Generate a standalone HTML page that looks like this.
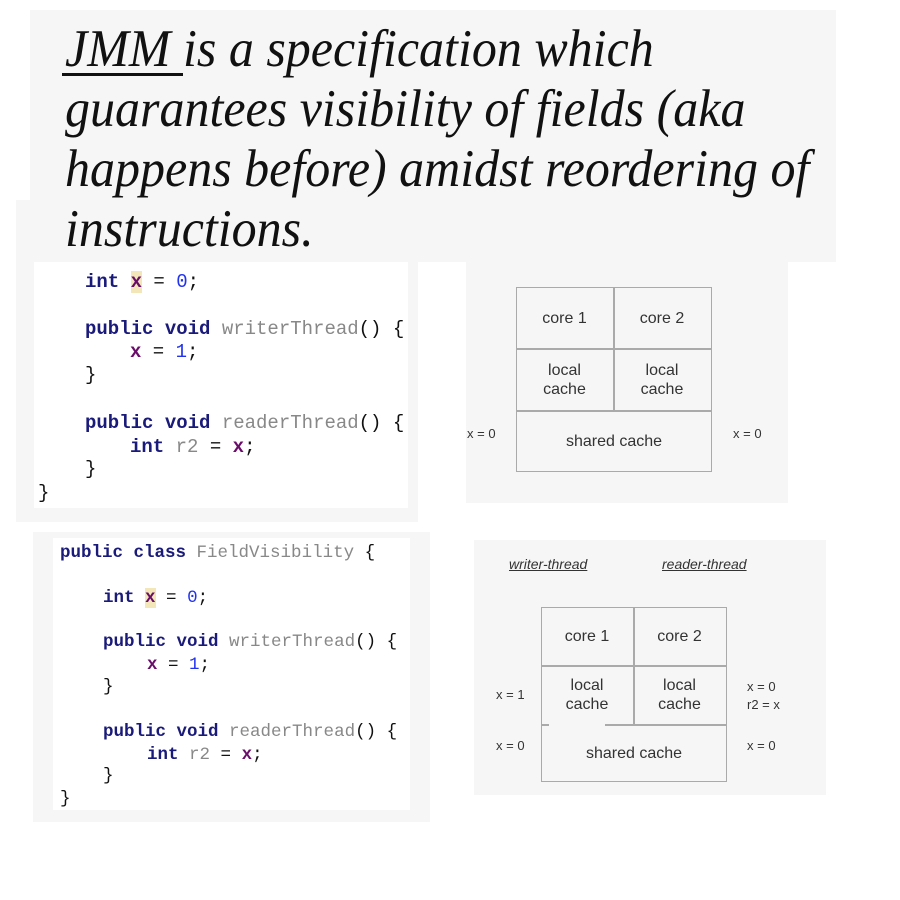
<!DOCTYPE html>
<html><head><meta charset="utf-8"><style>
body{margin:0;width:900px;height:900px;background:#fff;position:relative;overflow:hidden;font-family:"Liberation Sans",sans-serif}
.a{position:absolute}
.t{position:absolute;left:65px;font-family:"Liberation Serif",serif;font-style:italic;font-size:50px;color:#111;white-space:nowrap;line-height:1;transform:scaleY(1.05);transform-origin:left top}
.c{position:absolute;font-family:"Liberation Mono",monospace;white-space:pre;color:#111;line-height:1}
.k{color:#1a1a7a;font-weight:bold}
.v{color:#6a0d6a;font-weight:bold}
.n{color:#2233ee}
.g{color:#888}
.h{background:#f3e6b8}
.l{position:absolute;font-size:16px;color:#333;text-align:center;line-height:19px}
.s{position:absolute;font-size:13px;color:#333;white-space:nowrap;line-height:18px}
.bx{position:absolute;border:1.5px solid #aaa;box-sizing:border-box}
.hl{position:absolute;height:1.5px;background:#aaa}
.vl{position:absolute;width:1.5px;background:#aaa}
</style></head><body>
<div class="a" style="left:30px;top:10px;width:806px;height:252px;background:#f6f6f6"></div>
<div class="a" style="left:16px;top:200px;width:20px;height:62px;background:#f6f6f6"></div>
<div class="t" style="top:22px">JMM is a specification which</div>
<div class="a" style="left:62px;top:73px;width:121px;height:3px;background:#111"></div>
<div class="t" style="top:82px">guarantees visibility of fields (aka</div>
<div class="t" style="top:142px">happens before) amidst reordering of</div>
<div class="t" style="top:202px">instructions.</div>

<div class="a" style="left:16px;top:262px;width:402px;height:260px;background:#f6f6f6"></div>
<div class="a" style="left:34px;top:262px;width:374px;height:246px;background:#fff"></div>
<div class="c" style="font-size:19px;left:85px;top:273px"><span class="k">int</span> <span class="v h">x</span> = <span class="n">0</span>;</div>
<div class="c" style="font-size:19px;left:85px;top:320px"><span class="k">public void</span> <span class="g">writerThread</span>() {</div>
<div class="c" style="font-size:19px;left:130px;top:343px"><span class="v">x</span> = <span class="n">1</span>;</div>
<div class="c" style="font-size:19px;left:85px;top:366px">}</div>
<div class="c" style="font-size:19px;left:85px;top:414px"><span class="k">public void</span> <span class="g">readerThread</span>() {</div>
<div class="c" style="font-size:19px;left:130px;top:438px"><span class="k">int</span> <span class="g">r2</span> = <span class="v">x</span>;</div>
<div class="c" style="font-size:19px;left:85px;top:460px">}</div>
<div class="c" style="font-size:19px;left:38px;top:484px">}</div>

<div class="a" style="left:466px;top:262px;width:322px;height:241px;background:#f6f6f6"></div>
<div class="bx" style="left:516px;top:287px;width:196px;height:185px"></div>
<div class="hl" style="left:516px;top:348px;width:196px"></div>
<div class="hl" style="left:516px;top:410px;width:196px"></div>
<div class="vl" style="left:613px;top:287px;height:123px"></div>
<div class="l" style="left:516px;top:309px;width:97px">core 1</div>
<div class="l" style="left:613px;top:309px;width:98px">core 2</div>
<div class="l" style="left:516px;top:361px;width:97px">local<br>cache</div>
<div class="l" style="left:613px;top:361px;width:98px">local<br>cache</div>
<div class="l" style="left:516px;top:432px;width:196px">shared cache</div>
<div class="s" style="left:467px;top:425px">x = 0</div>
<div class="s" style="left:733px;top:425px">x = 0</div>

<div class="a" style="left:33px;top:532px;width:397px;height:290px;background:#f6f6f6"></div>
<div class="a" style="left:53px;top:538px;width:357px;height:272px;background:#fff"></div>
<div class="c" style="font-size:17.5px;left:60px;top:545px"><span class="k">public class</span> <span class="g">FieldVisibility</span> {</div>
<div class="c" style="font-size:17.5px;left:103px;top:590px"><span class="k">int</span> <span class="v h">x</span> = <span class="n">0</span>;</div>
<div class="c" style="font-size:17.5px;left:103px;top:634px"><span class="k">public void</span> <span class="g">writerThread</span>() {</div>
<div class="c" style="font-size:17.5px;left:147px;top:657px"><span class="v">x</span> = <span class="n">1</span>;</div>
<div class="c" style="font-size:17.5px;left:103px;top:679px">}</div>
<div class="c" style="font-size:17.5px;left:103px;top:724px"><span class="k">public void</span> <span class="g">readerThread</span>() {</div>
<div class="c" style="font-size:17.5px;left:147px;top:747px"><span class="k">int</span> <span class="g">r2</span> = <span class="v">x</span>;</div>
<div class="c" style="font-size:17.5px;left:103px;top:768px">}</div>
<div class="c" style="font-size:17.5px;left:60px;top:791px">}</div>

<div class="a" style="left:474px;top:540px;width:352px;height:255px;background:#f6f6f6"></div>
<div class="s" style="left:509px;top:555px;font-style:italic;text-decoration:underline;font-size:14px">writer-thread</div>
<div class="s" style="left:662px;top:555px;font-style:italic;text-decoration:underline;font-size:14px">reader-thread</div>
<div class="bx" style="left:541px;top:607px;width:186px;height:175px"></div>
<div class="hl" style="left:541px;top:665px;width:186px"></div>
<div class="hl" style="left:541px;top:724px;width:186px"></div>
<div class="a" style="left:549px;top:723px;width:56px;height:4px;background:#f6f6f6"></div>
<div class="vl" style="left:633px;top:607px;height:118px"></div>
<div class="l" style="left:541px;top:627px;width:92px">core 1</div>
<div class="l" style="left:633px;top:627px;width:93px">core 2</div>
<div class="l" style="left:541px;top:676px;width:92px">local<br>cache</div>
<div class="l" style="left:633px;top:676px;width:93px">local<br>cache</div>
<div class="l" style="left:541px;top:744px;width:186px">shared cache</div>
<div class="s" style="left:496px;top:686px">x = 1</div>
<div class="s" style="left:496px;top:737px">x = 0</div>
<div class="s" style="left:747px;top:678px">x = 0</div>
<div class="s" style="left:747px;top:696px">r2 = x</div>
<div class="s" style="left:747px;top:737px">x = 0</div>
</body></html>
